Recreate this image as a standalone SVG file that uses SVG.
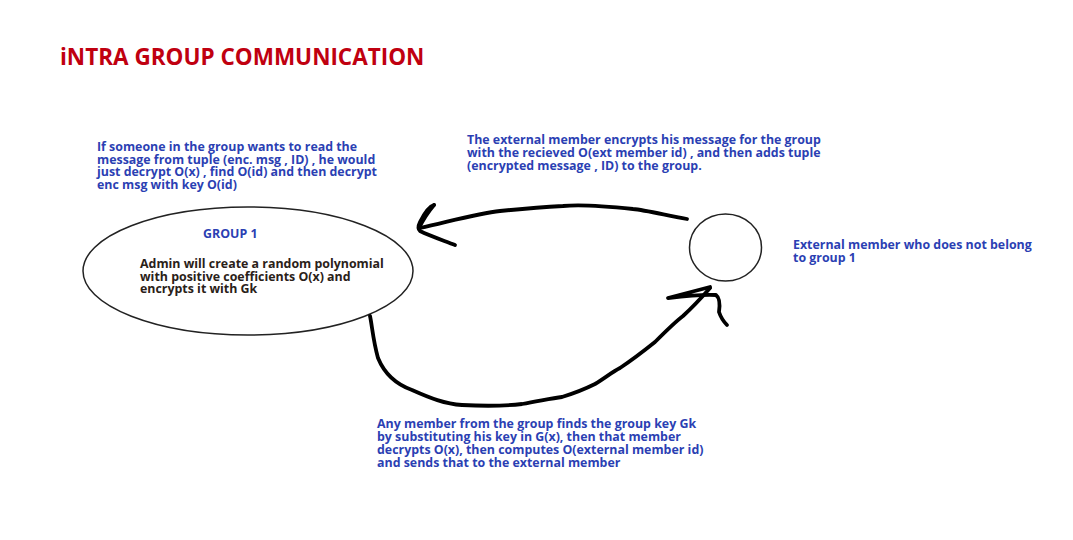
<svg xmlns="http://www.w3.org/2000/svg" width="1073" height="540" viewBox="0 0 1073 540">
<style>
.t{font-family:"Open Sans","Noto Sans","Liberation Sans",sans-serif;font-weight:bold;font-size:12.4px;fill:#2b3fb3}
.d{fill:#2a2118}
.title{font-family:"Open Sans","Noto Sans","Liberation Sans",sans-serif;font-weight:bold;font-size:22.5px;fill:#c00010}
.shape{fill:none;stroke:#222;stroke-width:1.5}
.ink{fill:none;stroke:#000;stroke-width:3.8;stroke-linecap:round;stroke-linejoin:round}
</style>
<rect width="1073" height="540" fill="#fff"/>
<text class="title" x="60" y="65">iNTRA GROUP COMMUNICATION</text>
<g id="note-read">
<text class="t" x="97" y="151">If someone in the group wants to read the</text>
<text class="t" x="97" y="163.5">message from tuple (enc. msg , ID) , he would</text>
<text class="t" x="97" y="176">just decrypt O(x) , find O(id) and then decrypt</text>
<text class="t" x="97" y="188.5">enc msg with key O(id)</text>
</g>
<g id="group1">
<ellipse class="shape" cx="248" cy="271" rx="165" ry="64"/>
<text class="t" x="203" y="238">GROUP 1</text>
<text class="t d" x="140" y="268">Admin will create a random polynomial</text>
<text class="t d" x="140" y="280.5">with positive coefficients O(x) and</text>
<text class="t d" x="140" y="293">encrypts it with Gk</text>
</g>
<g id="external">
<ellipse class="shape" cx="725.5" cy="247.5" rx="36" ry="33.5"/>
<text class="t" x="793" y="249">External member who does not belong</text>
<text class="t" x="793" y="262">to group 1</text>
</g>
<g id="note-send">
<text class="t" x="467" y="144">The external member encrypts his message for the group</text>
<text class="t" x="467" y="157">with the recieved O(ext member id) , and then adds tuple</text>
<text class="t" x="467" y="170">(encrypted message , ID) to the group.</text>
</g>
<g id="note-key">
<text class="t" x="377" y="428">Any member from the group finds the group key Gk</text>
<text class="t" x="377" y="441">by substituting his key in G(x), then that member</text>
<text class="t" x="377" y="454">decrypts O(x), then computes O(external member id)</text>
<text class="t" x="377" y="467">and sends that to the external member</text>
</g>
<g id="connectors">
<path class="ink" d="M687,219 C665,215 645,210 633,209 C605,206 580,204 563,206 C545,207 520,209 500,211 C480,213 455,220 420,228"/>
<path class="ink" d="M434,205 C430,206 424,214 420,222 C418,226 418,229 420,231 C430,236 445,241 455,245"/>
<path class="ink" d="M434,205 C428,212 423,220 419,228"/>
<path class="ink" d="M370,316 C372,325 373,340 378,358 C385,375 398,385 412,390 C430,398 445,404 462,405 C480,406 505,406 522,404 C540,401 552,398 562,397 C575,393 585,389 595,384 C605,378 612,372 620,368 C632,360 645,350 655,342 C665,332 675,322 683,316 C695,305 703,296 710,288"/>
<path class="ink" d="M710,287 L668,298 C685,296 703,294 716,295 C720,298 720,305 719,312 C721,318 724,322 727,325"/>
</g>
</svg>
